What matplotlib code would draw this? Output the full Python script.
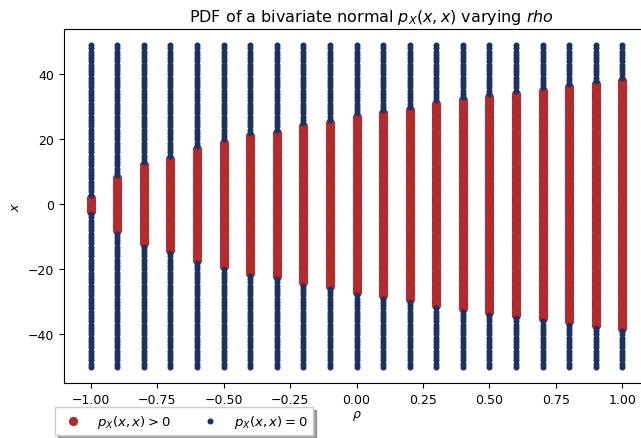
import matplotlib
matplotlib.use("Agg")
import matplotlib.pyplot as plt
import numpy as np

# correlation values on the horizontal axis
rho_values = [-1.0, -0.9, -0.8, -0.7, -0.6, -0.5, -0.4, -0.3, -0.2, -0.1, 0.0,
              0.1, 0.2, 0.3, 0.4, 0.5, 0.6, 0.7, 0.8, 0.9, 1.0]
# largest |x| where the pdf is still > 0
positive_halfwidth = [2, 8, 12, 14, 17, 19, 21, 22, 24, 25, 27,
                      28, 29, 31, 32, 33, 34, 35, 36, 37, 38]
# evaluation grid for x
x_grid = np.arange(-50, 50)

red = "#b02c2f"
navy = "#1c3263"

pos_r, pos_x, zero_r, zero_x = [], [], [], []
for r, hw in zip(rho_values, positive_halfwidth):
    inside = np.abs(x_grid) <= hw
    pos_r += [r] * inside.sum()
    pos_x += list(x_grid[inside])
    zero_r += [r] * (~inside).sum()
    zero_x += list(x_grid[~inside])

plt.rcParams['xtick.labelsize'] = 9
plt.rcParams['ytick.labelsize'] = 9

fig = plt.figure(figsize=(6.41, 4.39), dpi=100)
ax = fig.add_axes([64 / 641, 55 / 439, 585 / 641, 354 / 439])

ax.scatter(pos_r, pos_x, s=32, color=red, label=r"$p_X(x,x) > 0$")
ax.scatter(zero_r, zero_x, s=11, color=navy, label=r"$p_X(x,x) = 0$")

ax.set_title(r"PDF of a bivariate normal $p_X(x,x)$ varying $rho$", x=0.525, fontsize=11.5)
ax.set_xlabel(r"$\rho$", fontsize=9, labelpad=2)
ax.set_ylabel(r"$x$", fontsize=9)
ax.set_xticks([-1.0, -0.75, -0.5, -0.25, 0.0, 0.25, 0.5, 0.75, 1.0])

ax.legend(loc="upper left", bbox_to_anchor=(-0.027, -0.05), ncol=2,
          shadow=True, fancybox=False, framealpha=1, fontsize=9.5)

fig.savefig("out.png", dpi=100)
